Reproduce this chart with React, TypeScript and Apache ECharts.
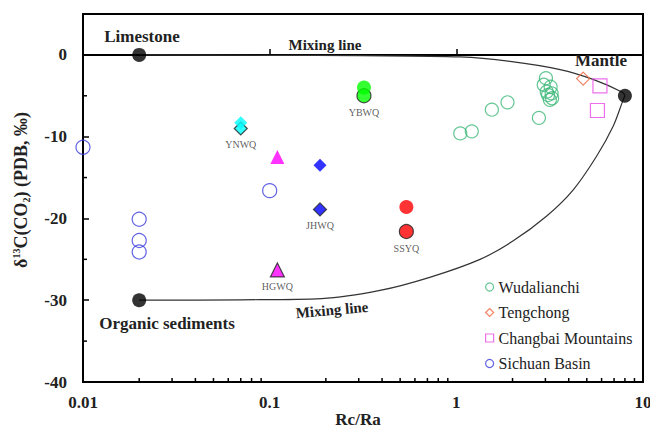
import React, { useEffect, useRef } from "react";
import * as echarts from "echarts";

// ---------- data ----------
const wudalianchiRcRa = [1.05, 1.21, 1.55, 1.88, 2.77, 3.02, 2.94, 3.2, 3.05, 3.24, 3.1, 3.26, 3.17];
const wudalianchiD13C = [-9.6, -9.35, -6.7, -5.8, -7.7, -2.85, -3.65, -3.9, -4.5, -4.7, -4.9, -5.3, -5.5];

const tengchongRcRa = [4.78];
const tengchongD13C = [-2.9];

const changbaiRcRa = [5.88, 5.7];
const changbaiD13C = [-3.8, -6.8];

const sichuanRcRa = [0.01, 0.02, 0.02, 0.02, 0.1];
const sichuanD13C = [-11.3, -20.1, -22.7, -24.1, -16.6];

const endmemberNames = ["Limestone", "Organic sediments", "Mantle"];
const endmemberRcRa = [0.02, 0.02, 8];
const endmemberD13C = [0, -30, -5];

const sampleNames = ["YNWQ", "YBWQ", "HGWQ", "JHWQ", "SSYQ"];
const sampleRcRa = [0.07, 0.32, 0.11, 0.186, 0.54];
const sampleD13C = [-9.0, -5.0, -26.3, -18.9, -21.6];
const companionD13C = [-8.3, -4.0, -12.5, -13.5, -18.6];

const mixUpperRcRa = [0.02, 0.1, 0.3, 1.05, 1.94, 3.6, 5.4, 7.8, 8];
const mixUpperD13C = [0, -0.05, -0.1, -0.25, -0.8, -1.8, -3.0, -4.6, -5];

const mixLowerRcRa = [0.02, 0.07, 0.19, 0.39, 0.72, 1.34, 2.0, 3.05, 4.23, 5.64, 6.93, 7.83, 8];
const mixLowerD13C = [-30, -29.95, -29.8, -28.8, -27.2, -25.0, -22.8, -19.7, -16.5, -12.4, -8.7, -5.5, -5];

const xTickValues = [0.01, 0.1, 1, 10];
const xMinorTicks = [0.02, 0.03, 0.04, 0.05, 0.06, 0.07, 0.08, 0.09, 0.2, 0.3, 0.4, 0.5, 0.6, 0.7, 0.8, 0.9, 2, 3, 4, 5, 6, 7, 8, 9];
const yMinorTicks = [-35, -25, -15, -5];

// ---------- styles ----------
const FONT = "Liberation Serif";
const sampleSymbols = ["diamond", "circle", "triangle", "diamond", "circle"];
const sampleColors = ["#00ffff", "#00ff00", "#ff00ff", "#0000ff", "#ff0000"];
const sampleSizes = [13, 14, 14, 13, 14];
const COL_WU = "#3cb878";
const COL_TE = "#f0643c";
const COL_CB = "#e84be8";
const COL_SI = "#3b3bdc";

const zip = (a: number[], b: number[]) => a.map((v, i) => [v, b[i]]);

export default function App() {
  const ref = useRef<HTMLDivElement>(null);
  useEffect(() => {
    if (!ref.current) return;
    const chart = echarts.init(ref.current, undefined, { renderer: "svg" });

    const openStyle = (c: string) => ({ color: "rgba(255,255,255,0)", borderColor: c, borderWidth: 1.2 });

    const series: any[] = [
      {
        name: "mixUpper",
        type: "line",
        data: zip(mixUpperRcRa, mixUpperD13C),
        smooth: 0.3,
        symbol: "none",
        lineStyle: { color: "#333", width: 1.2 },
        z: 1,
      },
      {
        name: "mixLower",
        type: "line",
        data: zip(mixLowerRcRa, mixLowerD13C),
        smooth: 0.3,
        symbol: "none",
        lineStyle: { color: "#333", width: 1.2 },
        z: 1,
      },
      {
        name: "Wudalianchi",
        type: "scatter",
        symbol: "circle",
        symbolSize: 13,
        itemStyle: openStyle(COL_WU),
        data: zip(wudalianchiRcRa, wudalianchiD13C),
        z: 3,
      },
      {
        name: "Tengchong",
        type: "scatter",
        symbol: "diamond",
        symbolSize: 13,
        itemStyle: openStyle(COL_TE),
        data: zip(tengchongRcRa, tengchongD13C),
        z: 3,
      },
      {
        name: "Changbai Mountains",
        type: "scatter",
        symbol: "rect",
        symbolSize: 14,
        itemStyle: openStyle(COL_CB),
        data: zip(changbaiRcRa, changbaiD13C),
        z: 3,
      },
      {
        name: "Sichuan Basin",
        type: "scatter",
        symbol: "circle",
        symbolSize: 14,
        itemStyle: openStyle(COL_SI),
        data: zip(sichuanRcRa, sichuanD13C),
        z: 3,
      },
      {
        name: "endmembers",
        type: "scatter",
        symbol: "circle",
        symbolSize: 14,
        itemStyle: { color: "#000" },
        data: endmemberNames.map((n, i) => ({ name: n, value: [endmemberRcRa[i], endmemberD13C[i]] })),
        z: 4,
      },
      {
        name: "samples",
        type: "scatter",
        data: sampleNames.map((n, i) => ({
          name: n,
          value: [sampleRcRa[i], sampleD13C[i]],
          symbol: sampleSymbols[i],
          symbolSize: sampleSizes[i],
          itemStyle: { color: sampleColors[i], borderColor: "#222", borderWidth: 1.2 },
        })),
        label: {
          show: true,
          position: "bottom",
          distance: 4,
          formatter: "{b}",
          fontFamily: FONT,
          fontSize: 10,
          color: "#333",
        },
        z: 4,
      },
      {
        name: "companions",
        type: "scatter",
        data: sampleNames.map((n, i) => ({
          name: n,
          value: [sampleRcRa[i], companionD13C[i]],
          symbol: sampleSymbols[i],
          symbolSize: sampleSizes[i],
          itemStyle: { color: sampleColors[i] },
        })),
        z: 5,
      },
      {
        name: "xMinor",
        type: "custom",
        silent: true,
        clip: false,
        data: xMinorTicks.map((v) => [v, -40]),
        renderItem: (params: any, api: any) => {
          const p = api.coord([api.value(0), api.value(1)]);
          return {
            type: "line",
            shape: { x1: p[0], y1: p[1], x2: p[0], y2: p[1] - 4 },
            style: { stroke: "#000", lineWidth: 1.5 },
          };
        },
        z: 6,
      },
      {
        name: "yMinor",
        type: "custom",
        silent: true,
        clip: false,
        data: yMinorTicks.map((v) => [0.01, v]),
        renderItem: (params: any, api: any) => {
          const p = api.coord([api.value(0), api.value(1)]);
          return {
            type: "line",
            shape: { x1: p[0], y1: p[1], x2: p[0] + 4, y2: p[1] },
            style: { stroke: "#000", lineWidth: 1.5 },
          };
        },
        z: 6,
      },
    ];

    const annot = (text: string, x: number, y: number, size: number, rotation = 0) => ({
      type: "text",
      x,
      y,
      rotation,
      style: {
        text,
        fontFamily: FONT,
        fontSize: size,
        fontWeight: "bold",
        fill: "#222",
        align: "center",
        verticalAlign: "middle",
      },
      z: 10,
    });

    chart.setOption({
      animation: false,
      backgroundColor: "#fff",
      grid: {
        left: 83,
        right: 7,
        top: 14,
        bottom: 47,
        containLabel: false,
        outerBoundsMode: "none",
        show: true,
        borderColor: "#000",
        borderWidth: 2,
        backgroundColor: "transparent",
      },
      xAxis: {
        type: "log",
        logBase: 10,
        min: 0.01,
        max: 10,
        axisLine: { show: true, lineStyle: { color: "#000", width: 2 } },
        axisTick: { show: true, inside: true, length: 6, lineStyle: { color: "#000", width: 1.5 } },
        splitLine: { show: false },
        axisLabel: {
          margin: 12,
          fontFamily: FONT,
          fontSize: 17,
          fontWeight: "bold",
          color: "#222",
          formatter: (v: number) => {
            const r = parseFloat(Number(v).toPrecision(6));
            return xTickValues.includes(r) ? String(r) : "";
          },
        },
        name: "Rc/Ra",
        nameLocation: "middle",
        nameGap: 29,
        nameMoveOverlap: false,
        nameTextStyle: { fontFamily: FONT, fontSize: 17, fontWeight: "bold", color: "#222", padding: [0, 10, 0, 0], lineHeight: 17 },
      },
      yAxis: {
        type: "value",
        min: -40,
        max: 5,
        interval: 10,
        axisLine: { show: true, lineStyle: { color: "#000", width: 2 } },
        axisTick: { show: true, inside: true, length: 6, lineStyle: { color: "#000", width: 1.5 } },
        splitLine: { show: false },
        axisLabel: {
          margin: 16,
          fontFamily: FONT,
          fontSize: 17,
          fontWeight: "bold",
          color: "#222",
          formatter: (v: number) => (v > 0 ? "" : String(v)),
        },
      },
      legend: {
        orient: "vertical",
        left: 480,
        top: 274,
        itemWidth: 8,
        itemHeight: 8,
        itemGap: 9.5,
        selectedMode: false,
        textStyle: { fontFamily: FONT, fontSize: 16, color: "#222", lineHeight: 16 },
        data: [
          { name: "Wudalianchi", icon: "circle", itemStyle: openStyle(COL_WU) },
          { name: "Tengchong", icon: "diamond", itemStyle: openStyle(COL_TE) },
          { name: "Changbai Mountains", icon: "rect", itemStyle: openStyle(COL_CB) },
          { name: "Sichuan Basin", icon: "circle", itemStyle: openStyle(COL_SI) },
        ],
      },
      graphic: [
        annot("Limestone", 142, 36, 17),
        annot("Mantle", 601, 60, 17),
        annot("Organic sediments", 167, 323, 17),
        annot("Mixing line", 325, 45, 15),
        annot("Mixing line", 332, 310, 15, (5 * Math.PI) / 180),
        {
          type: "text",
          x: 21,
          y: 190,
          rotation: Math.PI / 2,
          style: {
            text: "{a|δ}{s|13}{a|C(CO}{b|2}{a|) (PDB, ‰)}",
            fill: "#222",
            align: "center",
            verticalAlign: "middle",
            rich: {
              a: { fontFamily: FONT, fontSize: 18, fontWeight: "bold", fill: "#222", lineHeight: 20 },
              s: { fontFamily: FONT, fontSize: 10, fontWeight: "bold", fill: "#222", verticalAlign: "top", lineHeight: 12 },
              b: { fontFamily: FONT, fontSize: 10, fontWeight: "bold", fill: "#222", verticalAlign: "bottom", lineHeight: 12 },
            },
          },
          z: 10,
        },
      ],
      series,
    });

    return () => chart.dispose();
  }, []);

  return <div ref={ref} style={{ width: 650, height: 429, position: "absolute", left: 0, top: 0 }} />;
}
